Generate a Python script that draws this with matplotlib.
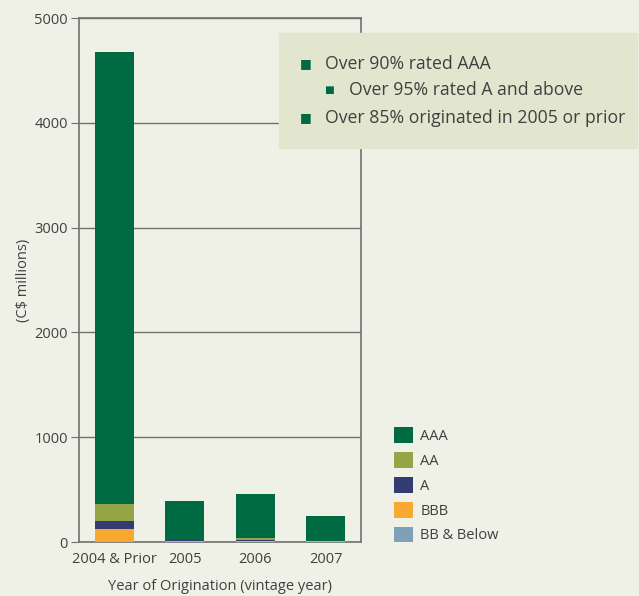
import matplotlib.pyplot as plt
import numpy as np

plt.rcParams['font.family'] = ['Open Sans', 'DejaVu Sans']

years = ['2004 & Prior', '2005', '2006', '2007']
bb_below = [0, 0, 0, 0]
bbb = [125, 10, 10, 12]
a = [75, 12, 10, 0]
aa = [165, 0, 20, 0]
aaa = [4310, 370, 418, 236]

series = [('AAA', aaa, '#006a42'), ('AA', aa, '#94a545'), ('A', a, '#343a73'),
          ('BBB', bbb, '#f9a92f'), ('BB & Below', bb_below, '#7ea1b8')]

bg = '#f0f1e6'
txt = '#404040'
fig = plt.figure(figsize=(6.39, 5.96), dpi=100, facecolor=bg)
ax = fig.add_axes([79/639, 54/596, 282/639, 524/596], facecolor=bg)

x = np.arange(len(years))
bottom = np.zeros(len(years))
handles = []
# stack from the bottom: BB & Below, BBB, A, AA, AAA
for name, vals, col in series[::-1]:
    b = ax.bar(x, vals, 0.55, bottom=bottom, color=col, label=name, zorder=3)
    bottom += np.array(vals)
    handles.append(b)

ax.set_xlim(-0.5, 3.5)
ax.set_ylim(0, 5000)
ax.set_yticks([0, 1000, 2000, 3000, 4000, 5000])
ax.set_xticks(x)
ax.set_xticklabels(years)
ax.yaxis.grid(True, color='#707070', lw=1, zorder=0)
for s in ax.spines.values():
    s.set_color('#707070')
    s.set_linewidth(1.2)
ax.tick_params(axis='both', colors='#707070', labelcolor=txt, labelsize=10.5, length=0, pad=7)
ax.tick_params(axis='y', length=6, direction='out', pad=2)
ax.set_xlabel('Year of Origination (vintage year)', color=txt, fontsize=10.5, labelpad=9)
ax.set_ylabel('(C$ millions)', color=txt, fontsize=10.5, labelpad=2)

leg = fig.legend(handles[::-1], [s[0] for s in series], loc='upper left',
                 bbox_to_anchor=(381/639, 1 - 414/596), frameon=False,
                 handlelength=1.3, handleheight=1.3, labelspacing=0.55,
                 handletextpad=0.5, fontsize=10.5)
for t in leg.get_texts():
    t.set_color(txt)

# annotation box
fig.patches.append(plt.Rectangle((279/639, 1 - 148/596), 358/639, 115/596,
                                 transform=fig.transFigure, color='#e3e6cf', zorder=5))
notes = [(306, 64, 325, 'Over 90% rated AAA', 7),
         (329, 90, 349, 'Over 95% rated A and above', 5.5),
         (306, 118, 325, 'Over 85% originated in 2005 or prior', 7)]
for bx, by, tx, s, ms in notes:
    fig.text(bx/639, 1 - by/596, '\u25a0', color='#006a42', fontsize=ms + 2,
             ha='center', va='center', zorder=6, family='DejaVu Sans')
    fig.text(tx/639, 1 - by/596, s, color=txt, fontsize=12.7, ha='left', va='center', zorder=6)

fig.savefig('out.png', dpi=100, facecolor=bg)
